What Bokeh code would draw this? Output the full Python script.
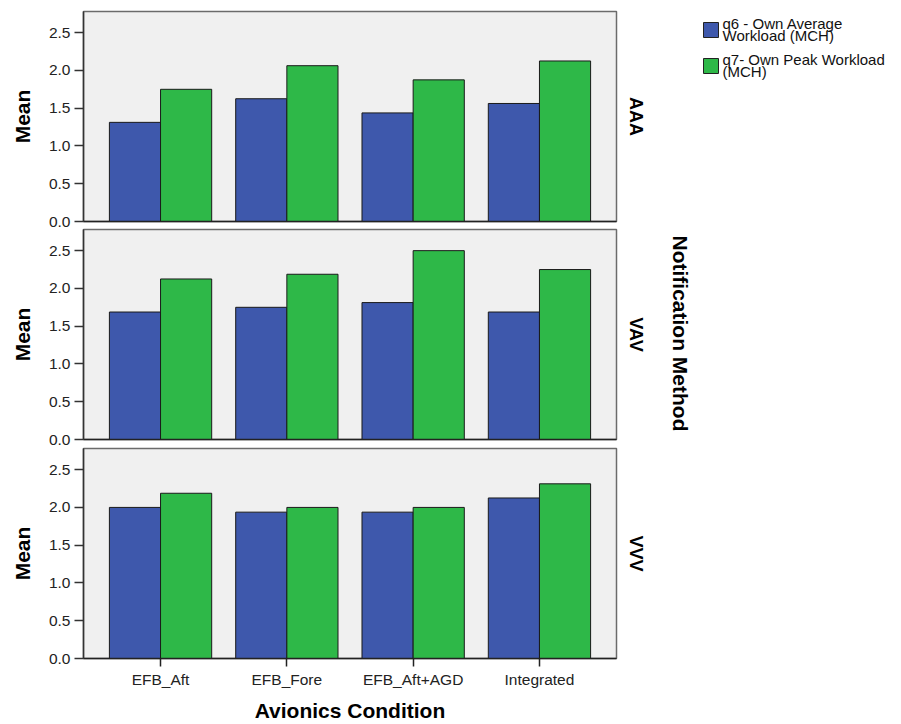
import math
from bokeh.plotting import figure
from bokeh.models import (FactorRange, Range1d, FixedTicker, NumeralTickFormatter,
                          Label, ColumnDataSource)
from bokeh.transform import dodge
from bokeh.layouts import column, row
from bokeh.embed import file_html
from bokeh.resources import INLINE

# ---- data ----
categories = ["EFB_Aft", "EFB_Fore", "EFB_Aft+AGD", "Integrated"]
panel_names = ["AAA", "VAV", "VVV"]
q6_aaa = [1.3125, 1.625, 1.4375, 1.5625]
q7_aaa = [1.75, 2.0625, 1.875, 2.125]
q6_vav = [1.6875, 1.75, 1.8125, 1.6875]
q7_vav = [2.125, 2.1875, 2.5, 2.25]
q6_vvv = [2.0, 1.9375, 1.9375, 2.125]
q7_vvv = [2.1875, 2.0, 2.0, 2.3125]
y_ticks = [0.0, 0.5, 1.0, 1.5, 2.0, 2.5]
series_lines = [["q6 - Own Average", "Workload (MCH)"], ["q7- Own Peak Workload", "(MCH)"]]

FONT = "Liberation Sans"
BLUE = "#3E58AC"
GREEN = "#2EB848"
BG = "#F0F0F0"
TOTAL_H = 724
LEFT_W = 38


def make_panel(q6, q7, height, top_b, bot_b, last):
    src = ColumnDataSource(dict(cat=categories, q6=q6, q7=q7))
    p = figure(width=(83 - LEFT_W) + 533 + 2, height=height,
               x_range=FactorRange(*categories, range_padding=0.055),
               y_range=Range1d(0, 2.78),
               output_backend="svg", toolbar_location=None,
               min_border_left=83 - LEFT_W, min_border_right=2,
               min_border_top=top_b, min_border_bottom=bot_b)
    p.background_fill_color = BG
    p.border_fill_color = "white"
    p.outline_line_color = "#6b6b6b"
    p.outline_line_width = 1.5
    p.grid.visible = False
    p.vbar(x=dodge("cat", -0.2025, range=p.x_range), top="q6", width=0.405,
           source=src, fill_color=BLUE, line_color="#1a1a1a", line_width=1)
    p.vbar(x=dodge("cat", 0.2025, range=p.x_range), top="q7", width=0.405,
           source=src, fill_color=GREEN, line_color="#1a1a1a", line_width=1)

    ya = p.yaxis[0]
    ya.ticker = FixedTicker(ticks=y_ticks)
    ya.formatter = NumeralTickFormatter(format="0.0")
    ya.major_label_text_font = FONT
    ya.major_label_text_font_size = "15.5px"
    ya.major_label_text_color = "#222222"
    ya.major_label_standoff = 4
    ya.major_tick_out = 9
    ya.major_tick_in = 0
    ya.minor_tick_out = 0
    ya.minor_tick_in = 0
    ya.axis_line_color = "#333333"
    ya.axis_line_width = 1.5
    ya.major_tick_line_color = "#333333"
    ya.major_tick_line_width = 1.5

    xa = p.xaxis[0]
    xa.axis_line_color = "#222222"
    xa.axis_line_width = 1.5
    if last:
        xa.axis_label = "Avionics Condition"
        xa.axis_label_text_font = FONT
        xa.axis_label_text_font_style = "bold"
        xa.axis_label_text_font_size = "21px"
        xa.axis_label_text_color = "black"
        xa.axis_label_standoff = 8
        xa.major_label_text_font = FONT
        xa.major_label_text_font_size = "15.5px"
        xa.major_label_text_color = "#222222"
        xa.major_label_standoff = 4
        xa.major_tick_out = 8
        xa.major_tick_in = 0
        xa.major_tick_line_color = "#222222"
        xa.major_tick_line_width = 1.5
    else:
        xa.major_label_text_font_size = "1px"
        xa.major_label_text_alpha = 0
        xa.major_label_standoff = 0
        xa.major_tick_out = 0
        xa.major_tick_in = 0
        xa.major_tick_line_color = None
    return p


p1 = make_panel(q6_aaa, q7_aaa, 228, 11, 7, False)
p2 = make_panel(q6_vav, q7_vav, 219, 1, 8, False)
p3 = make_panel(q6_vvv, q7_vvv, 277, 1, 66, True)

panel_centers = [TOTAL_H - 116, TOTAL_H - 334, TOTAL_H - 553]


def strip(width):
    s = figure(width=width, height=TOTAL_H, x_range=Range1d(0, width), y_range=Range1d(0, TOTAL_H),
               output_backend="svg", toolbar_location=None,
               x_axis_location=None, y_axis_location=None,
               min_border=0, min_border_left=0, min_border_right=0,
               min_border_top=0, min_border_bottom=0)
    s.outline_line_color = None
    s.grid.visible = False
    s.background_fill_color = "white"
    s.border_fill_color = "white"
    return s


# ---- left strip: "Mean" axis titles ----
left = strip(LEFT_W)
for yc in panel_centers:
    left.add_layout(Label(x=21.5, y=yc, text="Mean", angle=math.pi / 2,
                          text_align="center", text_baseline="middle",
                          text_font=FONT, text_font_style="bold", text_font_size="21px",
                          text_color="black"))

# ---- right strip: panel names, facet title, legend ----
RIGHT_X0 = 618
right = strip(280)
for name, yc in zip(panel_names, panel_centers):
    right.add_layout(Label(x=635 - RIGHT_X0, y=yc, text=name, angle=-math.pi / 2,
                           text_align="center", text_baseline="middle",
                           text_font=FONT, text_font_style="bold", text_font_size="18px",
                           text_color="black"))

right.add_layout(Label(x=680 - RIGHT_X0, y=TOTAL_H - 333, text="Notification Method",
                       angle=-math.pi / 2, text_align="center", text_baseline="middle",
                       text_font=FONT, text_font_style="bold", text_font_size="21px",
                       text_color="black"))

# legend: swatches + two-line labels
sw_y = [TOTAL_H - 29.5, TOTAL_H - 65.5]
right.rect(x=[710.5 - RIGHT_X0] * 2, y=sw_y, width=15, height=15,
           fill_color=[BLUE, GREEN], line_color="#222222", line_width=1)
line_y = [[23, 35], [59, 71]]
for lines, ys in zip(series_lines, line_y):
    for txt, yy in zip(lines, ys):
        right.add_layout(Label(x=722 - RIGHT_X0, y=TOTAL_H - yy, text=txt,
                               text_align="left", text_baseline="middle",
                               text_font=FONT, text_font_size="15px",
                               text_color="#111111"))

layout = row(left, column(p1, p2, p3, spacing=0), right, spacing=0)
open("out.html", "w").write(file_html(layout, INLINE))
